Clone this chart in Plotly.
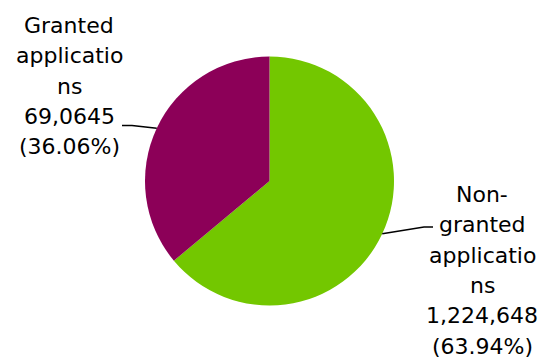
import math
import plotly.graph_objects as go

# Patent application outcomes
labels = ["Non-granted applications", "Granted applications"]
values = [1224648, 690645]
value_text = ["1,224,648", "69,0645"]
label_lines = [["Non-", "granted", "applicatio", "ns"],
               ["Granted", "applicatio", "ns"]]
colors = ["#73C700", "#8C0058"]

W, H = 548, 360
CX, CY, R = 269.5, 181.0, 124.5  # pie centre and radius in pixels

FONT = dict(family="DejaVu Sans", size=22, color="#000000")
LINE_STEP = 30.3

# label block placement: (centre x, first line centre y, elbow points)
label_layout = [
    dict(x=482, y0=194.5, elbow=[(433, 227), (424, 227)]),
    dict(x=69, y0=25.5, elbow=[(122, 125.5), (132, 125.5)]),
]


def px(x):
    return x / W


def py(y):
    return 1 - y / H


fig = go.Figure(
    go.Pie(
        labels=labels,
        values=values,
        marker=dict(colors=colors, line=dict(width=0)),
        sort=False,
        direction="clockwise",
        rotation=0,
        textinfo="none",
        hoverinfo="label+value+percent",
        showlegend=False,
        domain=dict(x=[px(CX - R), px(CX + R)], y=[py(CY + R), py(CY - R)]),
    )
)

total = sum(values)
annotations = []
shapes = []
start = 0.0
for i, v in enumerate(values):
    share = v / total
    mid = (start + share / 2) * 2 * math.pi  # clockwise from 12 o'clock
    start += share
    edge = (CX + R * math.sin(mid), CY - R * math.cos(mid))

    lay = label_layout[i]
    lines = label_lines[i] + [value_text[i], f"({share * 100:.2f}%)"]
    for k, t in enumerate(lines):
        annotations.append(dict(
            x=px(lay["x"]), y=py(lay["y0"] + k * LINE_STEP),
            xref="paper", yref="paper", text=t, showarrow=False,
            xanchor="center", yanchor="middle", font=FONT,
        ))

    pts = lay["elbow"] + [edge]
    path = "M " + " L ".join(f"{px(a)},{py(b)}" for a, b in pts)
    shapes.append(dict(type="path", xref="paper", yref="paper", path=path,
                       line=dict(color="#000000", width=1.4)))

fig.update_layout(
    width=W, height=H,
    margin=dict(l=0, r=0, t=0, b=0),
    paper_bgcolor="#ffffff",
    plot_bgcolor="#ffffff",
    annotations=annotations,
    shapes=shapes,
)

fig.write_html("out.html")
